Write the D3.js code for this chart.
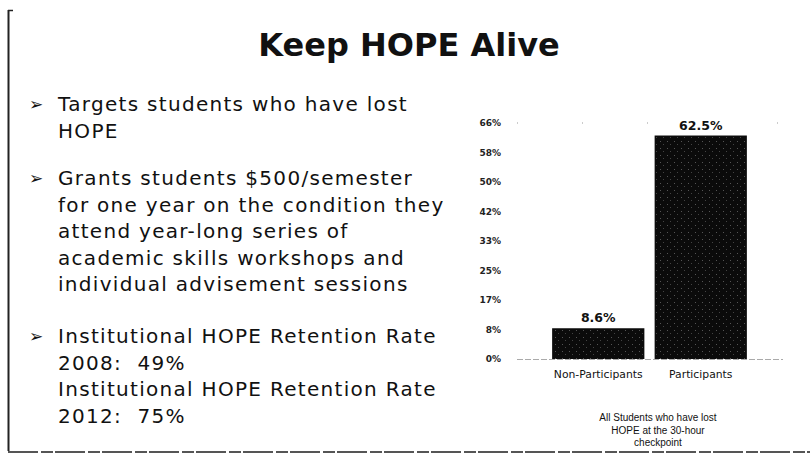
<!DOCTYPE html>
<html><head><meta charset="utf-8">
<script src="https://cdn.jsdelivr.net/npm/d3@7"></script>
<style>html,body{margin:0;padding:0;background:#fff;}svg{display:block;}text{white-space:pre;}</style>
</head><body><svg id="c" width="810" height="456"></svg>
<script>
const categories = ["Non-Participants", "Participants"];
const values = [8.6, 62.5];
const valueLabels = ["8.6%", "62.5%"];
const tickLabels = ["0%", "8%", "17%", "25%", "33%", "42%", "50%", "58%", "66%"];
const yMax = 66;
const title = "Keep HOPE Alive";
const bullets = [
  ["Targets students who have lost", "HOPE"],
  ["Grants students $500/semester", "for one year on the condition they", "attend year-long series of", "academic skills workshops and", "individual advisement sessions"],
  ["Institutional HOPE Retention Rate", "2008:  49%", "Institutional HOPE Retention Rate", "2012:  75%"]
];
const caption = ["All Students who have lost", "HOPE at the 30-hour", "checkpoint"];

const svg = d3.select("#c");
const ink = "#111";

// frame
svg.append("line").attr("x1", 8.5).attr("x2", 8.5).attr("y1", 10).attr("y2", 451).attr("stroke", "#222").attr("stroke-width", 2);
svg.append("line").attr("x1", 8).attr("x2", 13).attr("y1", 10.5).attr("y2", 10.5).attr("stroke", "#222").attr("stroke-width", 1.5);
svg.append("line").attr("x1", 8).attr("x2", 810).attr("y1", 452).attr("y2", 452).attr("stroke", "#555").attr("stroke-width", 2).attr("stroke-dasharray", "30,3,12,2");

// title
svg.append("text").attr("x", 409).attr("y", 56).attr("text-anchor", "middle")
  .attr("font-family", "DejaVu Sans").attr("font-weight", "bold").attr("font-size", 32)
  .attr("fill", ink).text(title);

// bullets
const lineH = 26.5;
const starts = [111, 185, 343];
bullets.forEach((b, i) => {
  svg.append("text").attr("x", 29).attr("y", starts[i] - 1)
    .attr("font-family", "DejaVu Sans").attr("font-size", 17).attr("fill", ink).text("➢");
  b.forEach((ln, j) => {
    svg.append("text").attr("x", 58).attr("y", starts[i] + j * lineH)
      .attr("font-family", "DejaVu Sans").attr("font-size", 20).attr("letter-spacing", 1.3)
      .attr("fill", ink).text(ln);
  });
});

// chart
const y = d3.scaleLinear().domain([0, yMax]).range([359, 123]);
const x = d3.scaleBand().domain(categories).range([547, 752]).paddingInner(0.1).paddingOuter(0.05);
const tickVals = tickLabels.map((d, i) => i * yMax / (tickLabels.length - 1));

const yAxis = d3.axisLeft(y).tickValues(tickVals).tickFormat((d, i) => tickLabels[i]).tickSize(0).tickPadding(0);
const gy = svg.append("g").attr("transform", "translate(501,0)").call(yAxis);
gy.select(".domain").remove();
gy.selectAll("text").attr("font-family", "DejaVu Sans").attr("font-weight", "bold").attr("font-size", 9).attr("fill", "#222");

// faint top gridline (dots)
svg.append("line").attr("x1", 517).attr("x2", 783).attr("y1", y(yMax)).attr("y2", y(yMax))
  .attr("stroke", "#999").attr("stroke-width", 1).attr("stroke-dasharray", "1,64");

// baseline
svg.append("line").attr("x1", 517).attr("x2", 783).attr("y1", y(0) + 0.5).attr("y2", y(0) + 0.5)
  .attr("stroke", "#aaa").attr("stroke-width", 1).attr("stroke-dasharray", "6,2");

// bar texture pattern
const defs = svg.append("defs");
const pat = defs.append("pattern").attr("id", "tex").attr("width", 7).attr("height", 7).attr("patternUnits", "userSpaceOnUse");
pat.append("rect").attr("width", 7).attr("height", 7).attr("fill", "#0b0b0b");
pat.append("rect").attr("x", 2).attr("y", 1).attr("width", 1).attr("height", 1).attr("fill", "#555");
pat.append("rect").attr("x", 5).attr("y", 4).attr("width", 1).attr("height", 1).attr("fill", "#444");

svg.selectAll("rect.bar").data(values).enter().append("rect").attr("class", "bar")
  .attr("x", (d, i) => x(categories[i])).attr("width", x.bandwidth())
  .attr("y", d => y(d)).attr("height", d => y(0) - y(d))
  .attr("fill", "url(#tex)");

svg.selectAll("text.vl").data(values).enter().append("text").attr("class", "vl")
  .attr("x", (d, i) => x(categories[i]) + x.bandwidth() / 2).attr("y", d => y(d) - 6)
  .attr("text-anchor", "middle").attr("font-family", "DejaVu Sans").attr("font-weight", "bold")
  .attr("font-size", 12.5).attr("fill", ink).text((d, i) => valueLabels[i]);

const xAxis = d3.axisBottom(x).tickSize(0).tickPadding(0);
const gx = svg.append("g").attr("transform", `translate(0,${y(0) + 11})`).call(xAxis);
gx.select(".domain").remove();
gx.selectAll("text").attr("font-family", "DejaVu Sans").attr("font-size", 10.8).attr("fill", ink);

caption.forEach((c, i) => {
  svg.append("text").attr("x", 658).attr("y", 421 + i * 12.5).attr("text-anchor", "middle")
    .attr("font-family", "Liberation Sans").attr("font-size", 10).attr("fill", ink).text(c);
});
</script></body></html>
